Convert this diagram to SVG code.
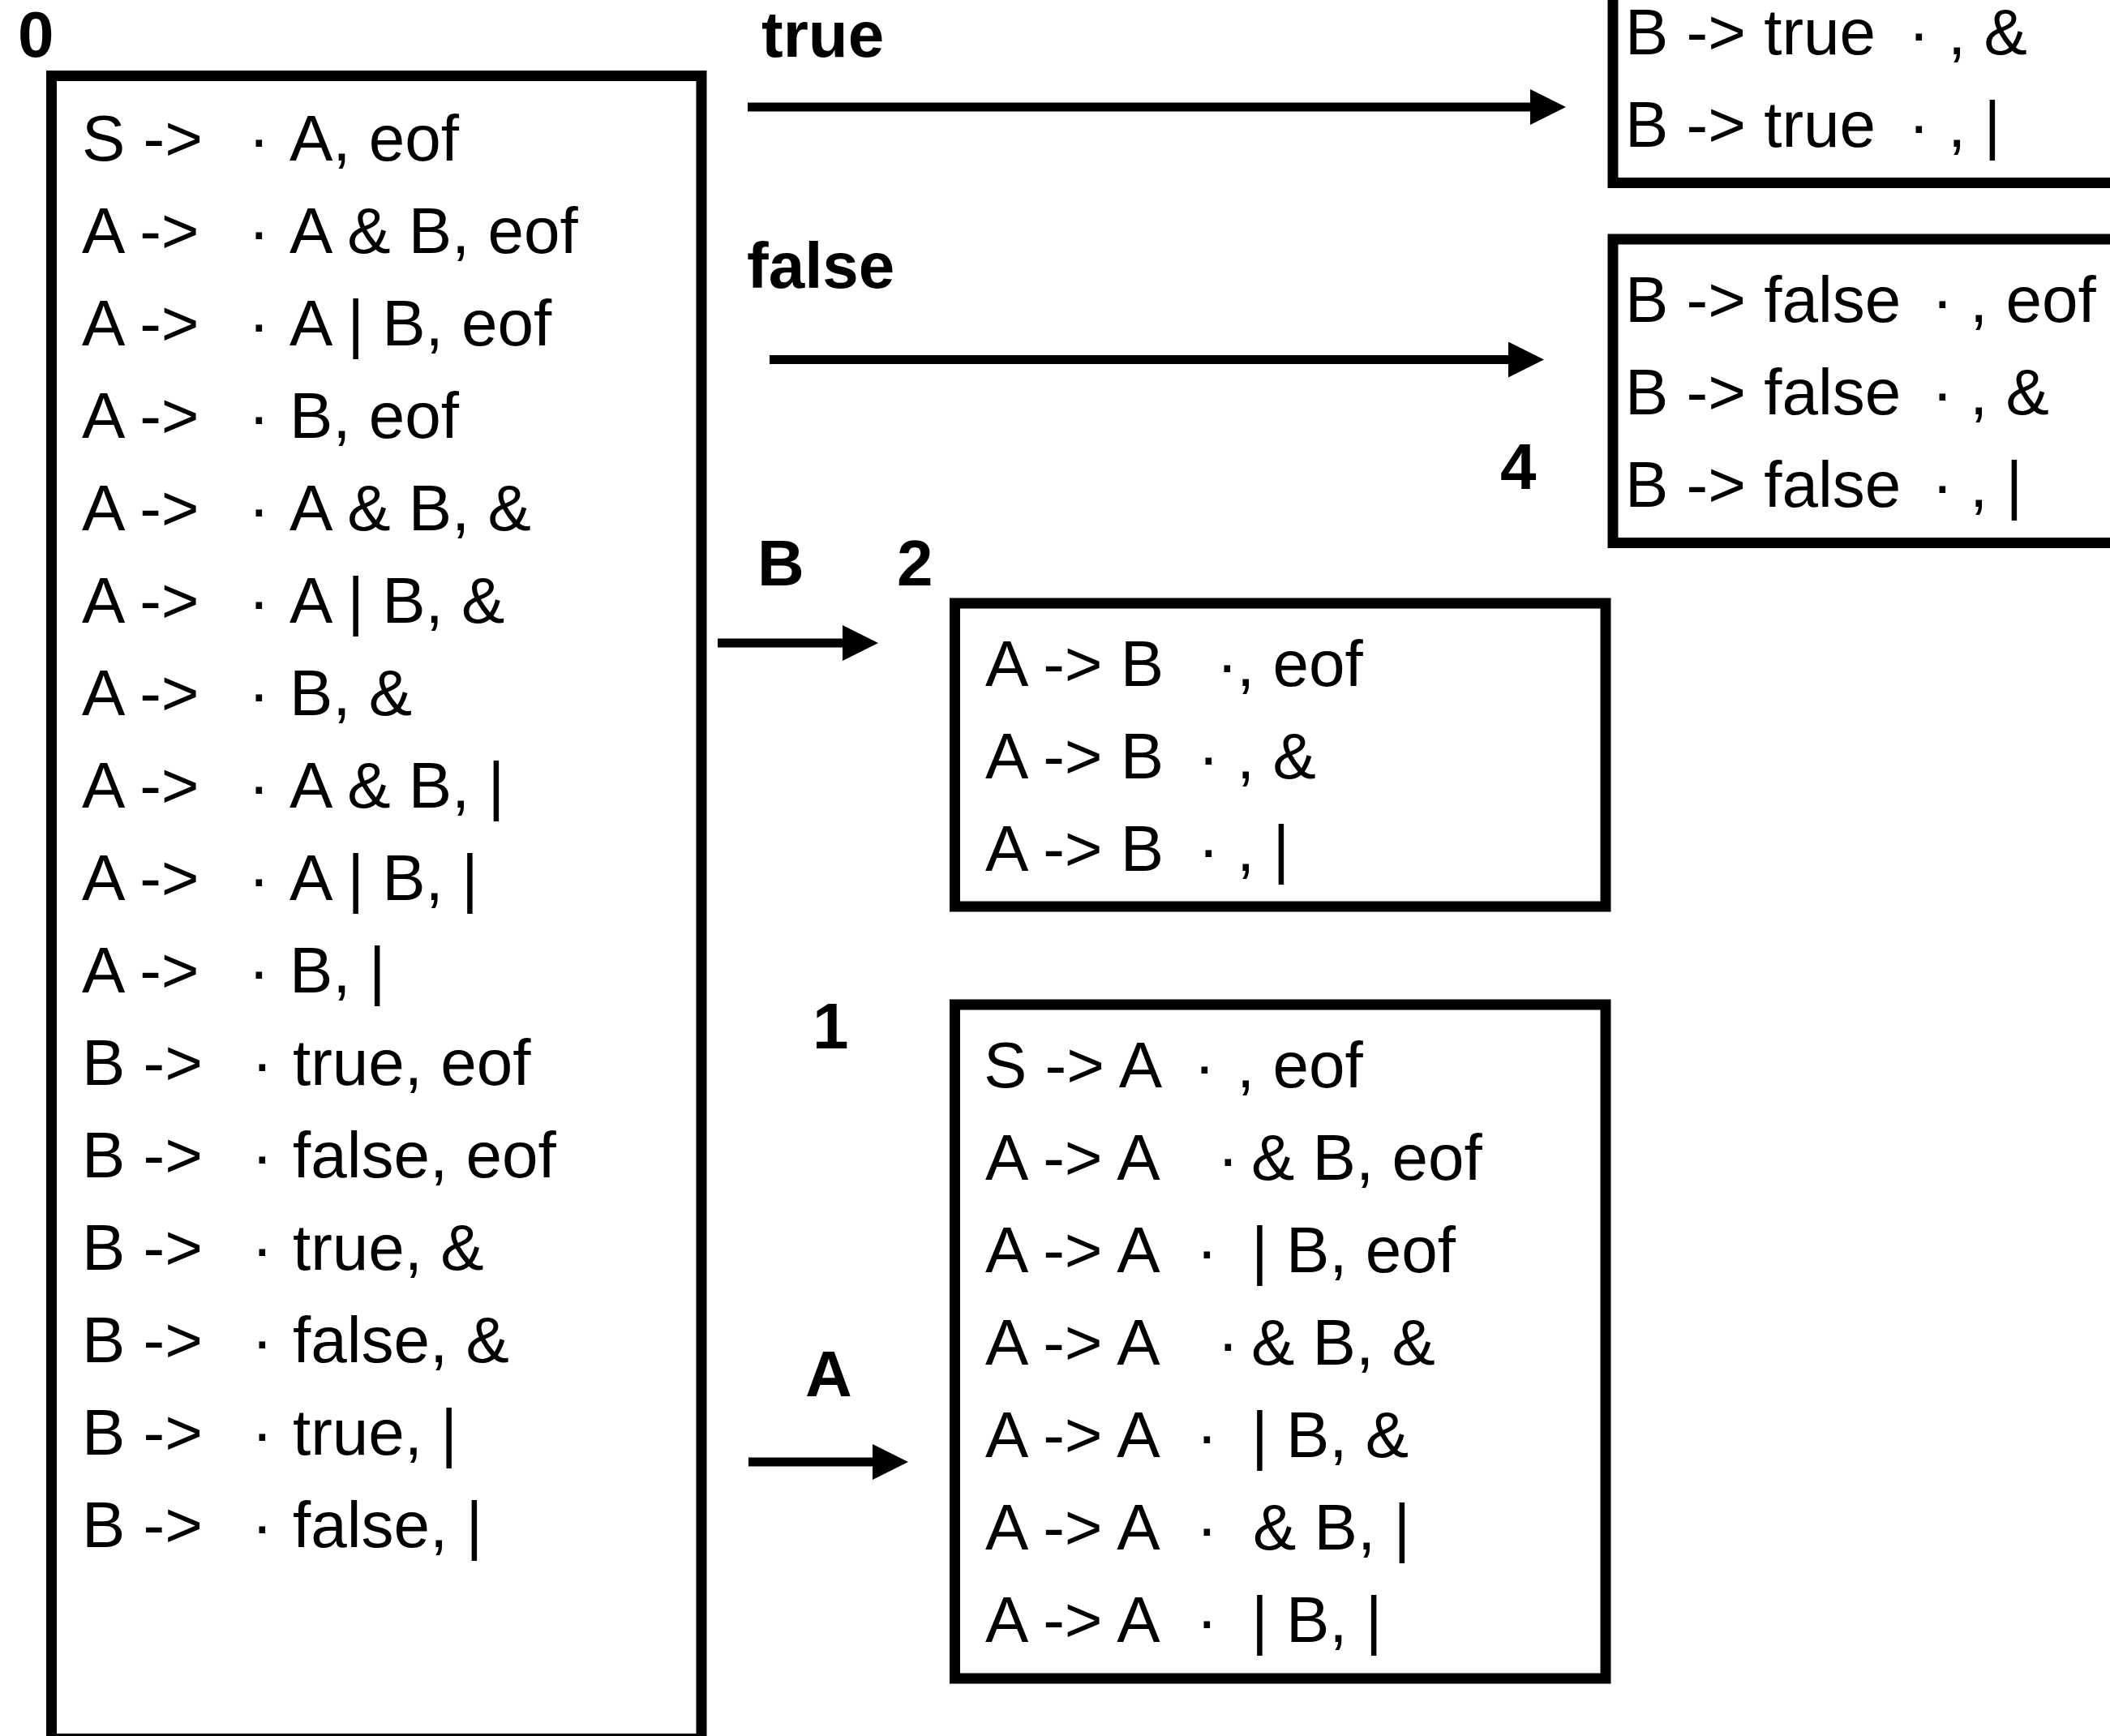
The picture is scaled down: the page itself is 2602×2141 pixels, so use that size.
<svg xmlns="http://www.w3.org/2000/svg" width="2602" height="2141" viewBox="0 0 2602 2141">
<defs>
<style>
.box{fill:none;stroke:#000;stroke-width:13}
.t{font-family:"Liberation Sans",Arial,Helvetica,sans-serif;font-size:80px;fill:#000}
.lbl{font-family:"Liberation Sans",Arial,Helvetica,sans-serif;font-size:80px;font-weight:bold;fill:#000}
.edge{stroke:#000;stroke-width:11;fill:none;marker-end:url(#ah)}
</style>
<marker id="ah" markerUnits="userSpaceOnUse" markerWidth="44" markerHeight="44" refX="0" refY="22" orient="auto">
<path d="M0,0 L44,22 L0,44 Z" fill="#000"/>
</marker>
</defs>
<rect width="2602" height="2141" fill="#fff"/>

<g id="state0">
<rect class="box" x="63.5" y="93.5" width="801.5" height="2051"/>
<text class="lbl" x="22" y="70">0</text>
<text class="t" y="198"><tspan x="101">S -&gt;</tspan><tspan x="306">·</tspan><tspan x="357">A, eof</tspan></text>
<text class="t" y="312"><tspan x="101">A -&gt;</tspan><tspan x="306">·</tspan><tspan x="357">A &amp; B, eof</tspan></text>
<text class="t" y="426"><tspan x="101">A -&gt;</tspan><tspan x="306">·</tspan><tspan x="357">A | B, eof</tspan></text>
<text class="t" y="540"><tspan x="101">A -&gt;</tspan><tspan x="306">·</tspan><tspan x="357">B, eof</tspan></text>
<text class="t" y="654"><tspan x="101">A -&gt;</tspan><tspan x="306">·</tspan><tspan x="357">A &amp; B, &amp;</tspan></text>
<text class="t" y="768"><tspan x="101">A -&gt;</tspan><tspan x="306">·</tspan><tspan x="357">A | B, &amp;</tspan></text>
<text class="t" y="882"><tspan x="101">A -&gt;</tspan><tspan x="306">·</tspan><tspan x="357">B, &amp;</tspan></text>
<text class="t" y="996"><tspan x="101">A -&gt;</tspan><tspan x="306">·</tspan><tspan x="357">A &amp; B, |</tspan></text>
<text class="t" y="1110"><tspan x="101">A -&gt;</tspan><tspan x="306">·</tspan><tspan x="357">A | B, |</tspan></text>
<text class="t" y="1224"><tspan x="101">A -&gt;</tspan><tspan x="306">·</tspan><tspan x="357">B, |</tspan></text>
<text class="t" y="1338"><tspan x="101">B -&gt;</tspan><tspan x="310">·</tspan><tspan x="361">true, eof</tspan></text>
<text class="t" y="1452"><tspan x="101">B -&gt;</tspan><tspan x="310">·</tspan><tspan x="361">false, eof</tspan></text>
<text class="t" y="1566"><tspan x="101">B -&gt;</tspan><tspan x="310">·</tspan><tspan x="361">true, &amp;</tspan></text>
<text class="t" y="1680"><tspan x="101">B -&gt;</tspan><tspan x="310">·</tspan><tspan x="361">false, &amp;</tspan></text>
<text class="t" y="1794"><tspan x="101">B -&gt;</tspan><tspan x="310">·</tspan><tspan x="361">true, |</tspan></text>
<text class="t" y="1908"><tspan x="101">B -&gt;</tspan><tspan x="310">·</tspan><tspan x="361">false, |</tspan></text>
</g>

<g id="state_true">
<rect class="box" x="1989" y="-50" width="640" height="275.5"/>
<text class="t" y="67"><tspan x="2004">B -&gt; true</tspan><tspan x="2353">·</tspan><tspan x="2402">, &amp;</tspan></text>
<text class="t" y="181"><tspan x="2004">B -&gt; true</tspan><tspan x="2353">·</tspan><tspan x="2402">, |</tspan></text>
</g>

<g id="state4">
<rect class="box" x="1989" y="295" width="640" height="374.5"/>
<text class="lbl" x="1850" y="603">4</text>
<text class="t" y="397"><tspan x="2004">B -&gt; false</tspan><tspan x="2382">·</tspan><tspan x="2429">, eof</tspan></text>
<text class="t" y="511"><tspan x="2004">B -&gt; false</tspan><tspan x="2382">·</tspan><tspan x="2429">, &amp;</tspan></text>
<text class="t" y="625"><tspan x="2004">B -&gt; false</tspan><tspan x="2382">·</tspan><tspan x="2429">, |</tspan></text>
</g>

<g id="state2">
<rect class="box" x="1177.5" y="744" width="802.5" height="374"/>
<text class="lbl" x="1106" y="722">2</text>
<text class="t" y="846"><tspan x="1215">A -&gt; B</tspan><tspan x="1500">·</tspan><tspan x="1525">, eof</tspan></text>
<text class="t" y="960"><tspan x="1215">A -&gt; B</tspan><tspan x="1477">·</tspan><tspan x="1525">, &amp;</tspan></text>
<text class="t" y="1074"><tspan x="1215">A -&gt; B</tspan><tspan x="1477">·</tspan><tspan x="1525">, |</tspan></text>
</g>

<g id="state1">
<rect class="box" x="1177.5" y="1239" width="802.5" height="831"/>
<text class="lbl" x="1002" y="1293">1</text>
<text class="t" y="1341"><tspan x="1213">S -&gt; A</tspan><tspan x="1472">·</tspan><tspan x="1525">, eof</tspan></text>
<text class="t" y="1455"><tspan x="1215">A -&gt; A</tspan><tspan x="1501">·</tspan><tspan x="1543">&amp; B, eof</tspan></text>
<text class="t" y="1569"><tspan x="1215">A -&gt; A</tspan><tspan x="1475">·</tspan><tspan x="1543">| B, eof</tspan></text>
<text class="t" y="1683"><tspan x="1215">A -&gt; A</tspan><tspan x="1501">·</tspan><tspan x="1543">&amp; B, &amp;</tspan></text>
<text class="t" y="1797"><tspan x="1215">A -&gt; A</tspan><tspan x="1475">·</tspan><tspan x="1543">| B, &amp;</tspan></text>
<text class="t" y="1911"><tspan x="1215">A -&gt; A</tspan><tspan x="1475">·</tspan><tspan x="1545">&amp; B, |</tspan></text>
<text class="t" y="2025"><tspan x="1215">A -&gt; A</tspan><tspan x="1475">·</tspan><tspan x="1543">| B, |</tspan></text>
</g>

<g id="connectors">
<line class="edge" x1="922" y1="132" x2="1887" y2="132"/>
<text class="lbl" x="939" y="70">true</text>
<line class="edge" x1="949" y1="443.5" x2="1860" y2="443.5"/>
<text class="lbl" x="921" y="355">false</text>
<line class="edge" x1="885" y1="793" x2="1039" y2="793"/>
<text class="lbl" x="934" y="722">B</text>
<line class="edge" x1="923" y1="1803" x2="1076" y2="1803"/>
<text class="lbl" x="993" y="1722">A</text>
</g>
</svg>
